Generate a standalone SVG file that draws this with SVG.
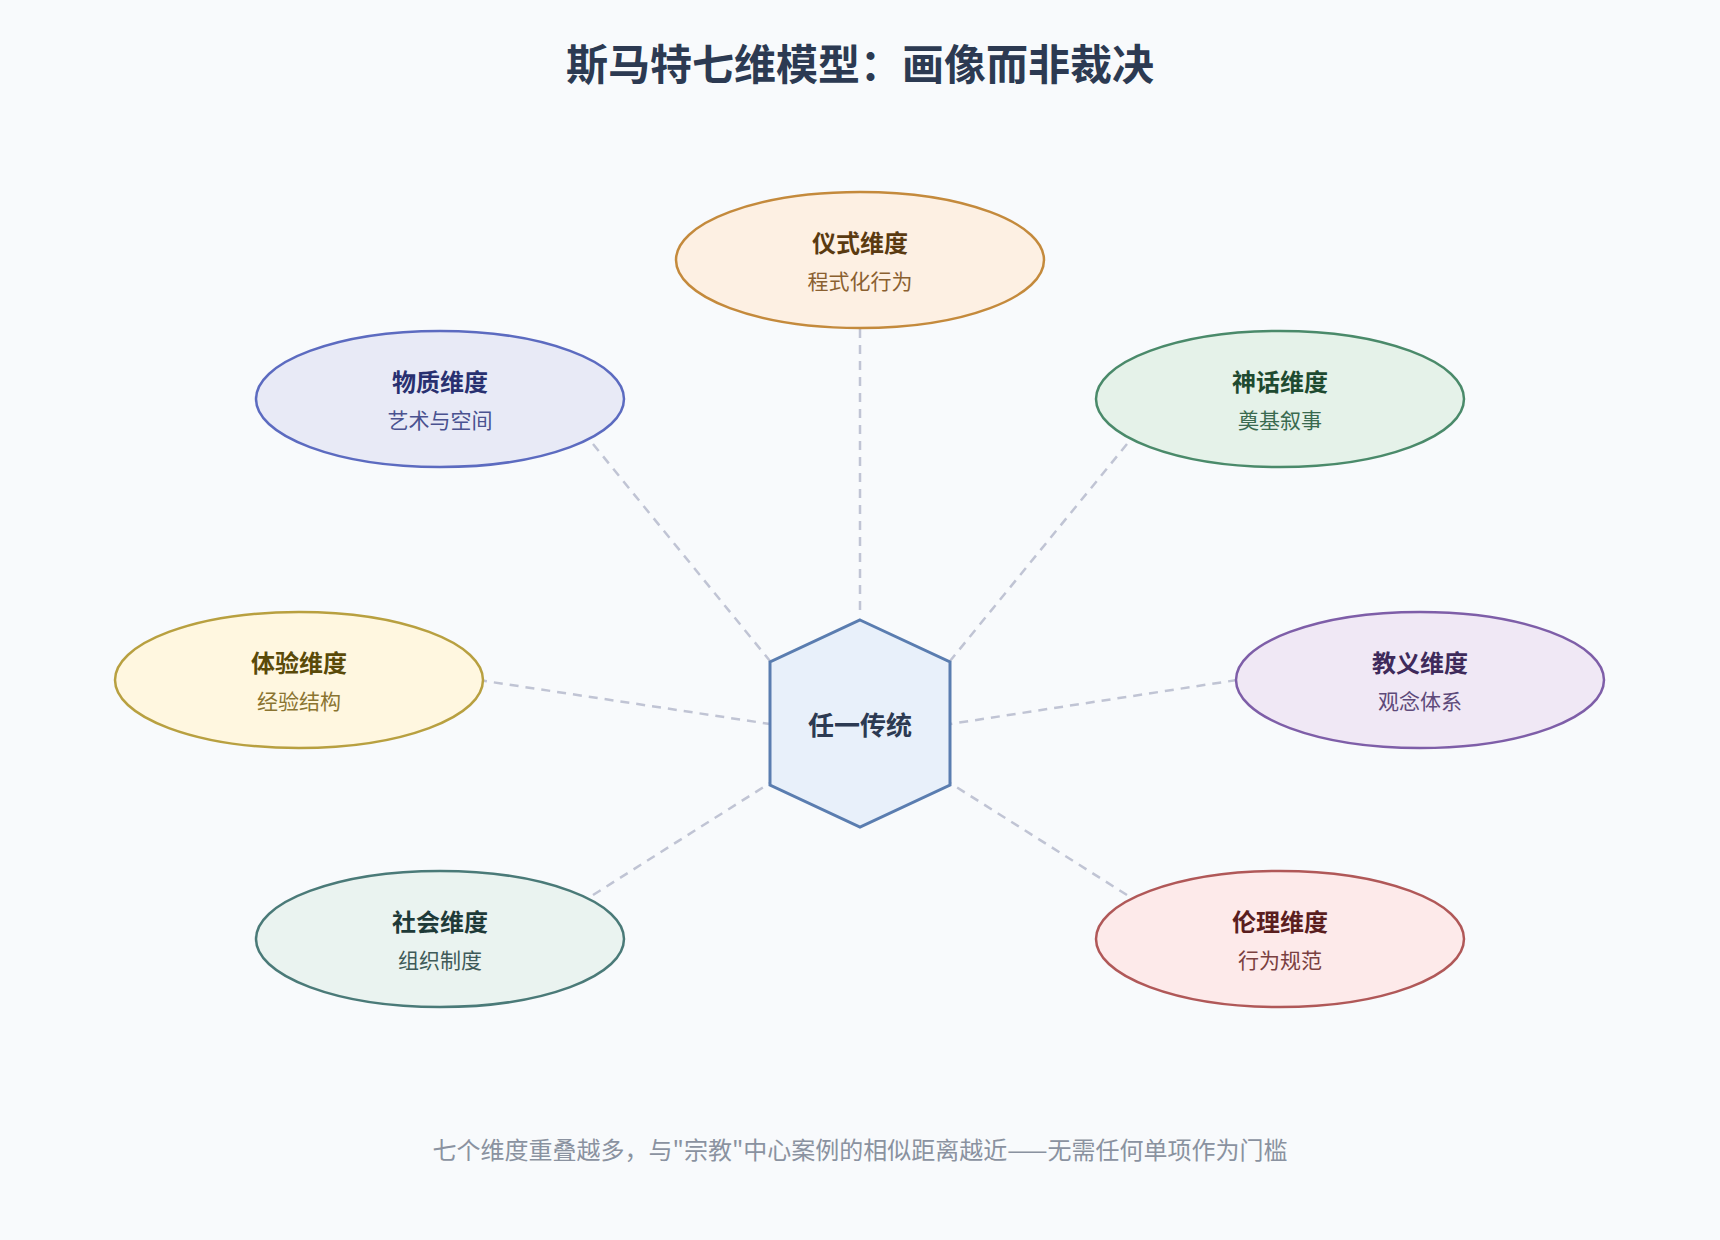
<svg xmlns="http://www.w3.org/2000/svg" width="1720" height="1240" viewBox="0 0 1720 1240">
<style>
text{font-family:"Noto Sans CJK SC","Noto Sans",sans-serif;text-anchor:middle}
.t{font-size:24px;font-weight:700}
.s{font-size:21px}
.e{stroke-width:2.5}
.c{stroke:#c0c4d4;stroke-width:2.5;stroke-dasharray:9 7;fill:none}
</style>
<rect width="1720" height="1240" fill="#f8fafc"/>
<text x="860" y="80" style="font-size:42px;font-weight:700" fill="#2c3a52">斯马特七维模型：画像而非裁决</text>
<g id="connectors">
<line class="c" x1="860" y1="329" x2="860" y2="614"/>
<line class="c" x1="593" y1="444" x2="770" y2="661"/>
<line class="c" x1="1127" y1="444" x2="950" y2="661"/>
<line class="c" x1="478" y1="680" x2="770" y2="724"/>
<line class="c" x1="1237" y1="680" x2="950" y2="724"/>
<line class="c" x1="593" y1="895" x2="770" y2="783"/>
<line class="c" x1="1127" y1="895" x2="950" y2="783"/>
</g>
<g id="center">
<polygon points="860,620 950,662 950,785 860,827 770,785 770,662" fill="#e8f0fa" stroke="#5a7db0" stroke-width="3"/>
<text x="860" y="735" style="font-size:26px;font-weight:700" fill="#2c3a52">任一传统</text>
</g>
<g id="ritual">
<ellipse class="e" cx="860" cy="260" rx="184" ry="68" fill="#fdf0e3" stroke="#c48a3c"/>
<text class="t" x="860" y="252" fill="#5a3a10">仪式维度</text>
<text class="s" x="860" y="289" fill="#8a6030">程式化行为</text>
</g>
<g id="material">
<ellipse class="e" cx="440" cy="399" rx="184" ry="68" fill="#e8eaf6" stroke="#5c6bc0"/>
<text class="t" x="440" y="391" fill="#283070">物质维度</text>
<text class="s" x="440" y="428" fill="#4a5290">艺术与空间</text>
</g>
<g id="myth">
<ellipse class="e" cx="1280" cy="399" rx="184" ry="68" fill="#e5f2e9" stroke="#4a8a6a"/>
<text class="t" x="1280" y="391" fill="#1e4a30">神话维度</text>
<text class="s" x="1280" y="428" fill="#3a6a50">奠基叙事</text>
</g>
<g id="experience">
<ellipse class="e" cx="299" cy="680" rx="184" ry="68" fill="#fff7e0" stroke="#b8a040"/>
<text class="t" x="299" y="672" fill="#5a4a08">体验维度</text>
<text class="s" x="299" y="709" fill="#8a7430">经验结构</text>
</g>
<g id="doctrine">
<ellipse class="e" cx="1420" cy="680" rx="184" ry="68" fill="#f0e8f5" stroke="#7e5ea8"/>
<text class="t" x="1420" y="672" fill="#3e2a5a">教义维度</text>
<text class="s" x="1420" y="709" fill="#5e4a7a">观念体系</text>
</g>
<g id="social">
<ellipse class="e" cx="440" cy="939" rx="184" ry="68" fill="#eaf3f0" stroke="#4a7a78"/>
<text class="t" x="440" y="931" fill="#1e3a38">社会维度</text>
<text class="s" x="440" y="968" fill="#3e5a58">组织制度</text>
</g>
<g id="ethics">
<ellipse class="e" cx="1280" cy="939" rx="184" ry="68" fill="#fdeaea" stroke="#b05858"/>
<text class="t" x="1280" y="931" fill="#5a1e1e">伦理维度</text>
<text class="s" x="1280" y="968" fill="#7a4040">行为规范</text>
</g>
<text x="860" y="1159" style="font-size:24px" fill="#8a92a0">七个维度重叠越多，与"宗教"中心案例的相似距离越近——无需任何单项作为门槛</text>
</svg>
